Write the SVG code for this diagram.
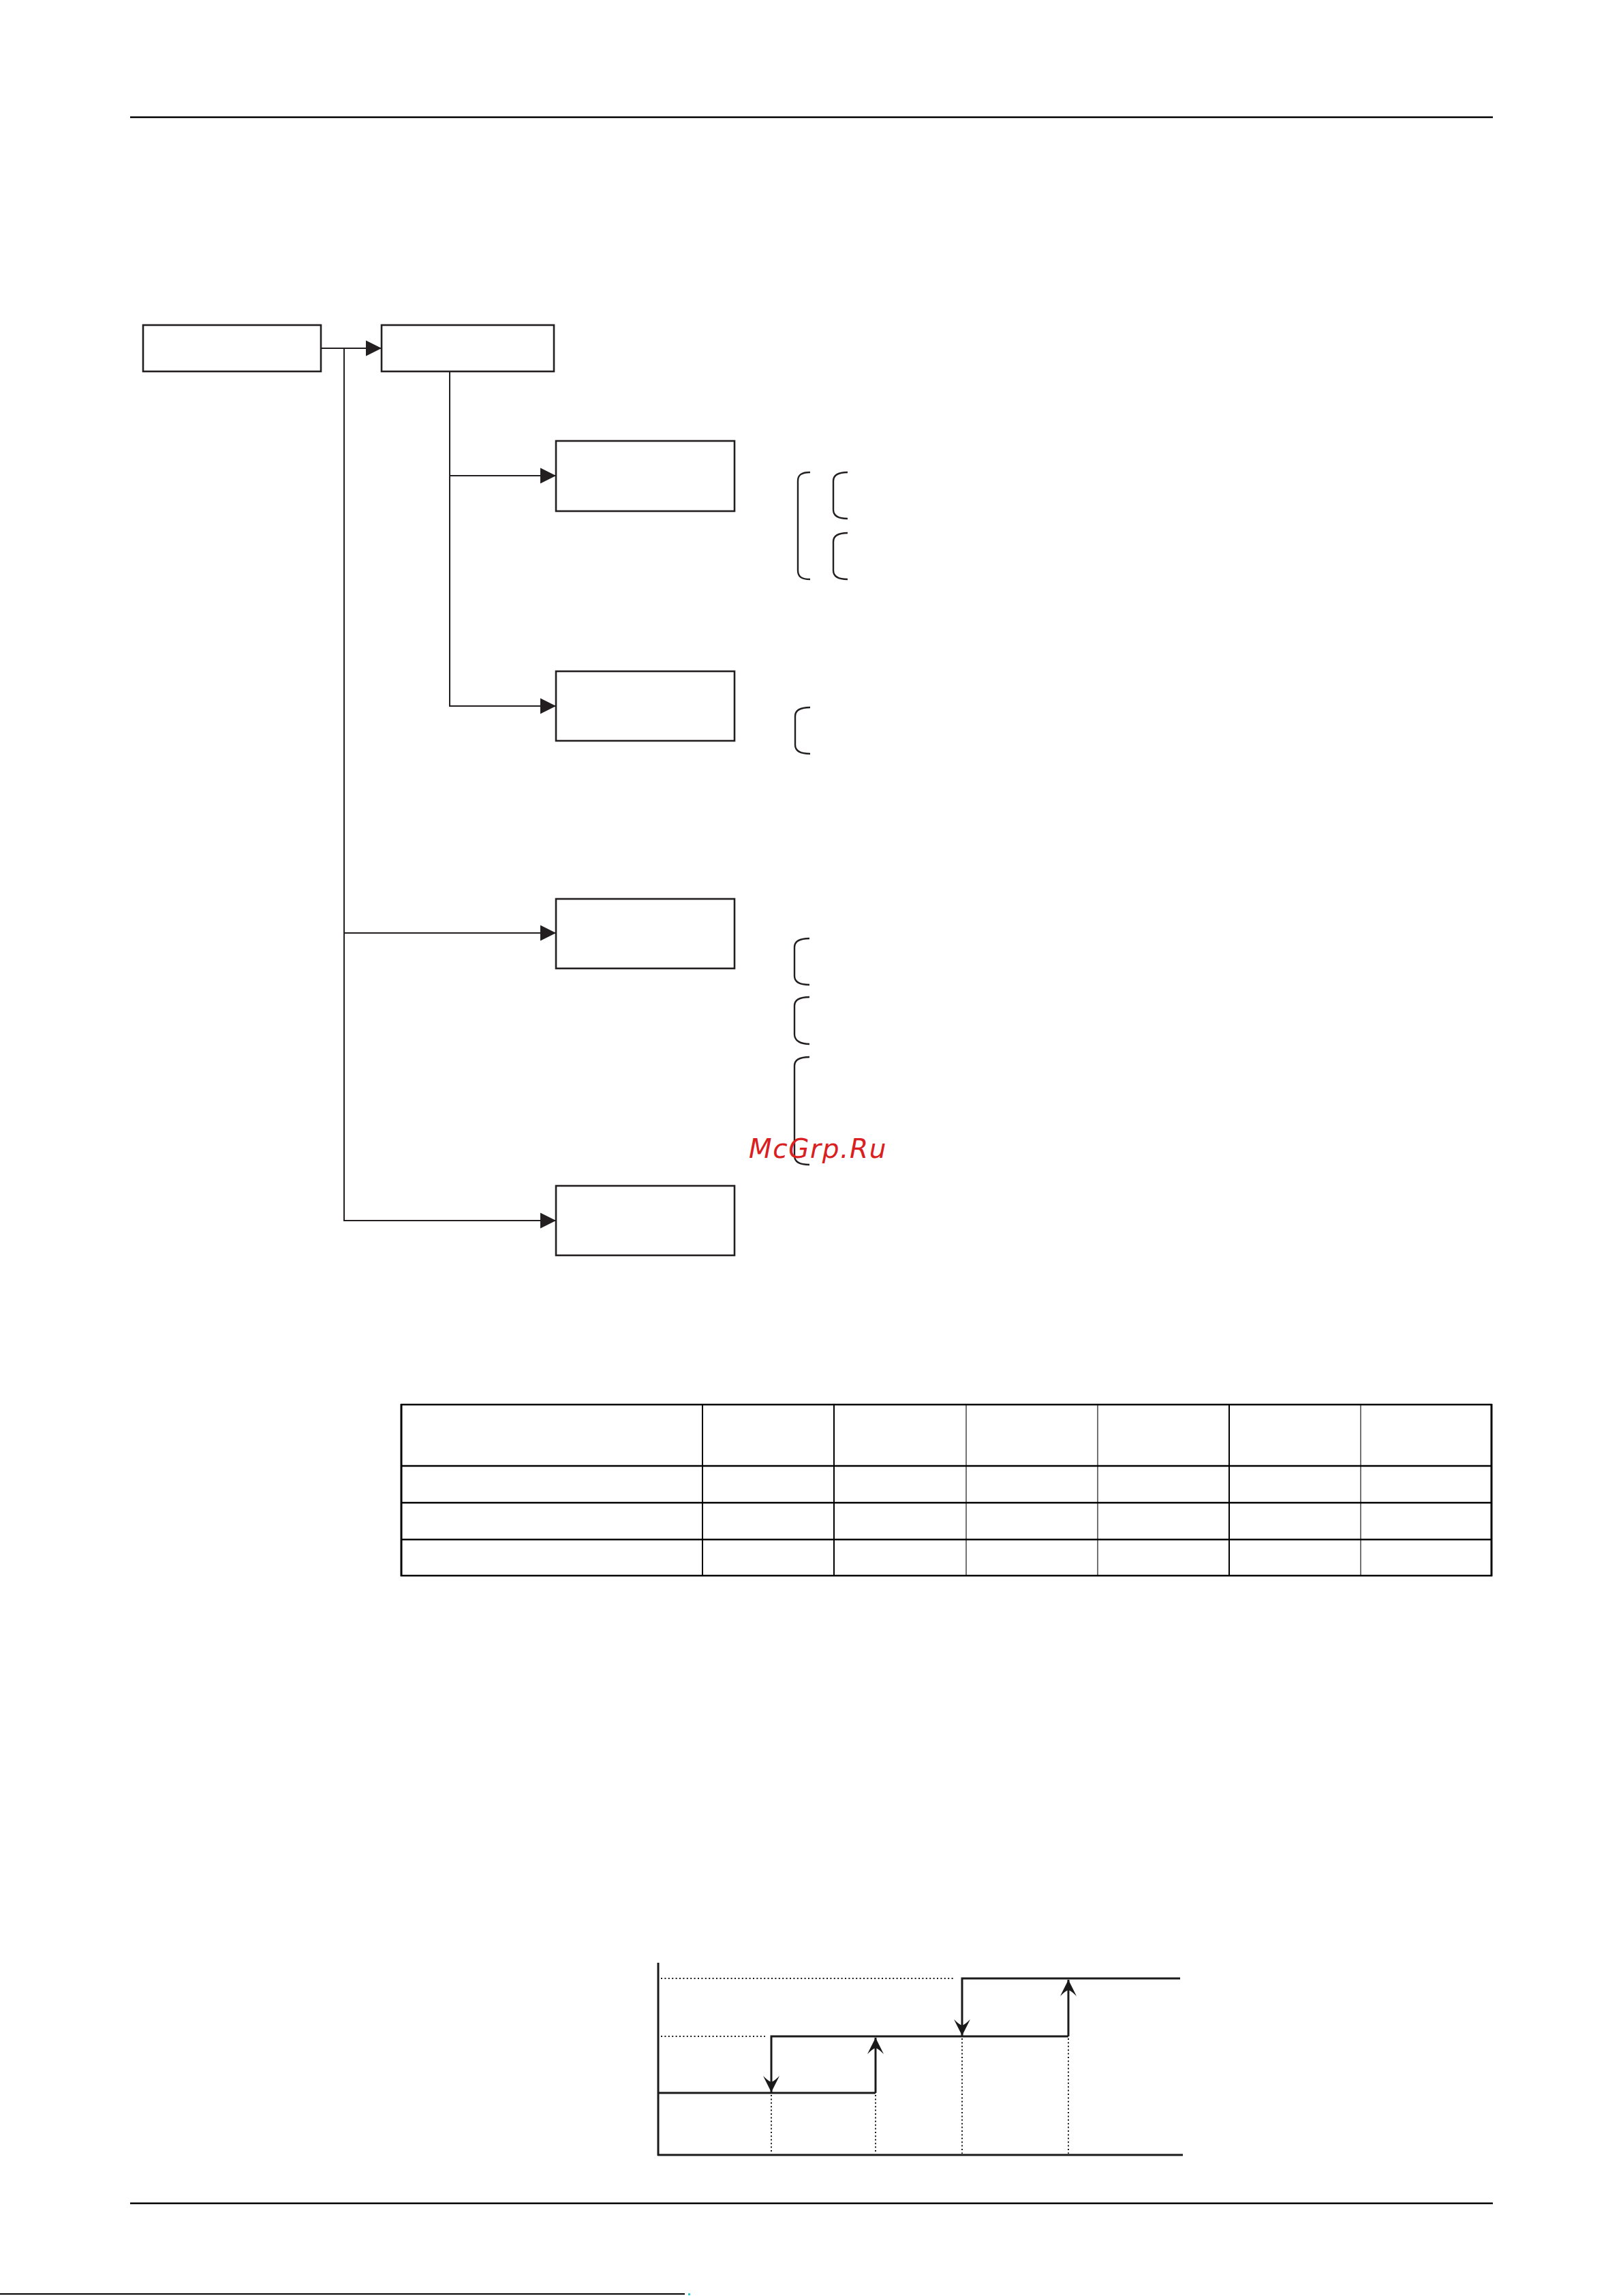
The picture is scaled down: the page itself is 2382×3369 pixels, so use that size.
<svg xmlns="http://www.w3.org/2000/svg" width="2382" height="3369" viewBox="0 0 2382 3369">
<style>
.box{fill:#fff;stroke:#231f20;stroke-width:2.6}
.con{fill:none;stroke:#231f20;stroke-width:2}
.brace{fill:none;stroke:#231f20;stroke-width:2.4}
.rule{stroke:#000;stroke-width:2.4}
.tb{fill:none;stroke:#000}
.g{fill:none;stroke:#1a1a1a;stroke-width:3}
.dot{fill:none;stroke:#1a1a1a;stroke-width:2;stroke-dasharray:2 3.4}
.wm{font-family:"DejaVu Sans",sans-serif;font-style:italic;font-size:39px;letter-spacing:1.6px;fill:#d9201f}
</style>
<defs>
<marker id="tri" markerUnits="userSpaceOnUse" markerWidth="26" markerHeight="26" viewBox="-24 -13 26 26" refX="0" refY="0" orient="auto">
<path d="M0,0 L-23,-11.5 L-23,11.5 Z" fill="#231f20"/>
</marker>
<marker id="stealth" markerUnits="userSpaceOnUse" markerWidth="28" markerHeight="28" viewBox="-25 -14 27 28" refX="0" refY="0" orient="auto">
<path d="M0,0 L-24,-12 Q-16,-4 -15,0 Q-16,4 -24,12 Z" fill="#1a1a1a"/>
</marker>
</defs>
<rect width="2382" height="3369" fill="#fff"/>
<line class="rule" x1="191" y1="172" x2="2191" y2="172"/>
<line class="rule" x1="191" y1="3233" x2="2191" y2="3233"/>
<line x1="0" y1="3366" x2="1005" y2="3366" stroke="#000" stroke-width="2"/>
<rect x="1010" y="3365" width="3" height="3" fill="#3cc"/>

<g id="connectors">
<path class="con" d="M471,511 H560" marker-end="url(#tri)"/>
<path class="con" d="M505,511 V1791 H816" marker-end="url(#tri)"/>
<path class="con" d="M505,1369 H816" marker-end="url(#tri)"/>
<path class="con" d="M660,545 V1036 H816" marker-end="url(#tri)"/>
<path class="con" d="M660,698 H816" marker-end="url(#tri)"/>
</g>

<g id="box1"><rect class="box" x="210" y="477" width="261" height="68"/></g>
<g id="box2"><rect class="box" x="560" y="477" width="253" height="68"/></g>
<g id="box3"><rect class="box" x="816" y="647" width="262" height="103"/></g>
<g id="box4"><rect class="box" x="816" y="985" width="262" height="102"/></g>
<g id="box5"><rect class="box" x="816" y="1319" width="262" height="102"/></g>
<g id="box6"><rect class="box" x="816" y="1740" width="262" height="102"/></g>

<g id="braces">
<path class="brace" d="M1189,693 C1176,693 1171,697 1171,706 V837 C1171,846 1176,850 1189,850"/>
<path class="brace" d="M1244,693 C1231,693 1223,697 1223,706 V748 C1223,757 1231,761 1244,761"/>
<path class="brace" d="M1244,782 C1231,782 1223,786 1223,795 V837 C1223,846 1231,850 1244,850"/>
<path class="brace" d="M1189,1038 C1176,1038 1167,1042 1167,1051 V1093 C1167,1102 1176,1106 1189,1106"/>
<path class="brace" d="M1188,1377 C1175,1377 1166,1381 1166,1390 V1432 C1166,1441 1175,1445 1188,1445"/>
<path class="brace" d="M1188,1463 C1175,1463 1166,1467 1166,1476 V1518 C1166,1527 1175,1532 1188,1532"/>
<path class="brace" d="M1188,1551 C1175,1551 1166,1555 1166,1564 V1696 C1166,1705 1175,1709 1188,1709"/>
</g>

<text class="wm" x="1099" y="1699">McGrp.Ru</text>

<g id="table">
<g class="tb" stroke-width="2.6">
<line x1="588" y1="2061" x2="2190" y2="2061"/>
<line x1="588" y1="2151" x2="2190" y2="2151"/>
<line x1="588" y1="2205" x2="2190" y2="2205"/>
<line x1="588" y1="2259" x2="2190" y2="2259"/>
<line x1="588" y1="2312" x2="2190" y2="2312"/>
</g>
<g class="tb" stroke-width="3">
<line x1="589" y1="2060" x2="589" y2="2313"/>
<line x1="2189" y1="2060" x2="2189" y2="2313"/>
</g>
<g class="tb" stroke-width="2">
<line x1="1031" y1="2061" x2="1031" y2="2312"/>
<line x1="1224" y1="2061" x2="1224" y2="2312"/>
<line x1="1804" y1="2061" x2="1804" y2="2312"/>
</g>
<g class="tb" stroke-width="1.1">
<line x1="1418" y1="2061" x2="1418" y2="2312"/>
<line x1="1611" y1="2061" x2="1611" y2="2312"/>
<line x1="1997" y1="2061" x2="1997" y2="2312"/>
</g>
</g>

<g id="graph">
<line class="g" x1="966" y1="2880" x2="966" y2="3163"/>
<line class="g" x1="965" y1="3162" x2="1736" y2="3162"/>
<line class="dot" x1="970" y1="2903" x2="1402" y2="2903"/>
<line class="dot" x1="970" y1="2988" x2="1123" y2="2988"/>
<line class="dot" x1="1132" y1="3074" x2="1132" y2="3160"/>
<line class="dot" x1="1285" y1="3074" x2="1285" y2="3160"/>
<line class="dot" x1="1412" y1="2991" x2="1412" y2="3160"/>
<line class="dot" x1="1568" y1="2991" x2="1568" y2="3160"/>
<path class="g" d="M967,3071 H1285"/>
<path class="g" d="M1285,3071 V2990" marker-end="url(#stealth)"/>
<path class="g" d="M1568,2988 H1132 V3070" marker-end="url(#stealth)"/>
<path class="g" d="M1568,2988 V2905" marker-end="url(#stealth)"/>
<path class="g" d="M1732,2903 H1412 V2987" marker-end="url(#stealth)"/>
</g>
</svg>
